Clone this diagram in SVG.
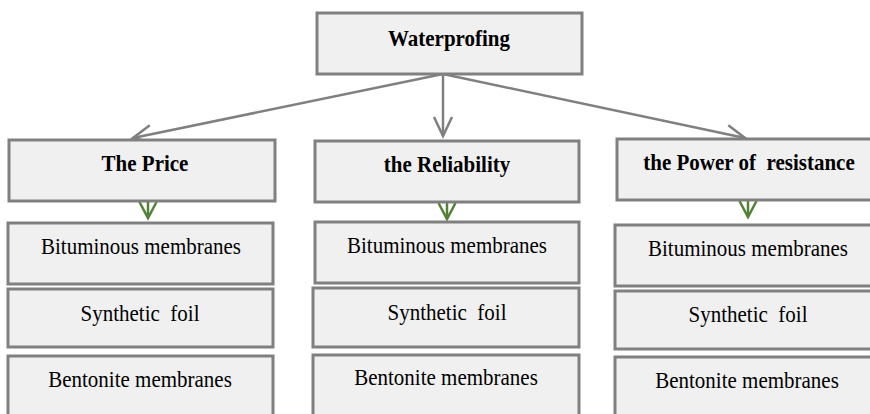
<svg xmlns="http://www.w3.org/2000/svg" width="870" height="414" viewBox="0 0 870 414">
<defs>
<style>
.box{fill:#f0f0f0;stroke:#808080;stroke-width:3}
.t{font-family:'Liberation Serif','Times New Roman',Times,serif;font-size:23px;fill:#000;text-anchor:middle}
.b{font-weight:bold}
.c{fill:none;stroke:#808080;stroke-width:2.5}
.g{fill:none;stroke:#538135;stroke-width:2.5}
</style>
<marker id="ah" markerUnits="userSpaceOnUse" markerWidth="40" markerHeight="40" viewBox="-25 -20 30 40" refX="0" refY="0" orient="auto" overflow="visible">
<path d="M-19,-9 L0,0 L-19,9" fill="none" stroke="#808080" stroke-width="2.5"/>
</marker>
<marker id="gh" markerUnits="userSpaceOnUse" markerWidth="40" markerHeight="40" viewBox="-25 -20 30 40" refX="0" refY="0" orient="auto" overflow="visible">
<path d="M-16,-8.5 L0,0 L-16,8.5" fill="none" stroke="#538135" stroke-width="2.5"/>
</marker>
</defs>
<rect width="870" height="414" fill="#fff"/>
<g id="connectors">
<line class="c" x1="443" y1="74" x2="443" y2="136" marker-end="url(#ah)"/>
<line class="c" x1="443" y1="74" x2="133" y2="138" marker-end="url(#ah)"/>
<line class="c" x1="443" y1="74" x2="745" y2="138" marker-end="url(#ah)"/>
<line class="g" x1="148" y1="201" x2="148" y2="218" marker-end="url(#gh)"/>
<line class="g" x1="447" y1="202" x2="447" y2="219" marker-end="url(#gh)"/>
<line class="g" x1="748" y1="200" x2="748" y2="217" marker-end="url(#gh)"/>
</g>
<g id="waterprofing">
<rect class="box" x="317" y="13" width="265" height="61"/>
<text class="t b" transform="translate(449,46) scale(0.913,1)">Waterprofing</text>
</g>
<g id="price">
<rect class="box" x="9" y="140" width="266" height="61"/>
<text class="t b" transform="translate(145,171) scale(0.913,1)">The Price</text>
</g>
<g id="reliability">
<rect class="box" x="315" y="141" width="264" height="61"/>
<text class="t b" transform="translate(447,172) scale(0.913,1)">the Reliability</text>
</g>
<g id="power">
<rect class="box" x="617" y="139" width="263" height="61"/>
<text class="t b" transform="translate(749,170) scale(0.913,1)" xml:space="preserve">the Power of  resistance</text>
</g>
<g id="price-bituminous">
<rect class="box" x="8" y="223" width="265" height="61"/>
<text class="t" transform="translate(141,254) scale(0.913,1)">Bituminous membranes</text>
</g>
<g id="price-synthetic">
<rect class="box" x="8" y="289" width="265" height="58"/>
<text class="t" transform="translate(140,321) scale(0.913,1)" xml:space="preserve">Synthetic  foil</text>
</g>
<g id="price-bentonite">
<rect class="box" x="8" y="356" width="265" height="70"/>
<text class="t" transform="translate(140,387) scale(0.913,1)">Bentonite membranes</text>
</g>
<g id="reliability-bituminous">
<rect class="box" x="315" y="222" width="264" height="61"/>
<text class="t" transform="translate(447,253) scale(0.913,1)">Bituminous membranes</text>
</g>
<g id="reliability-synthetic">
<rect class="box" x="313" y="288" width="266" height="59"/>
<text class="t" transform="translate(447,320) scale(0.913,1)" xml:space="preserve">Synthetic  foil</text>
</g>
<g id="reliability-bentonite">
<rect class="box" x="313" y="355" width="266" height="70"/>
<text class="t" transform="translate(446,385) scale(0.913,1)">Bentonite membranes</text>
</g>
<g id="power-bituminous">
<rect class="box" x="615" y="225" width="265" height="61"/>
<text class="t" transform="translate(748,256) scale(0.913,1)">Bituminous membranes</text>
</g>
<g id="power-synthetic">
<rect class="box" x="615" y="291" width="265" height="58"/>
<text class="t" transform="translate(748,322) scale(0.913,1)" xml:space="preserve">Synthetic  foil</text>
</g>
<g id="power-bentonite">
<rect class="box" x="615" y="357" width="265" height="70"/>
<text class="t" transform="translate(747,388) scale(0.913,1)">Bentonite membranes</text>
</g>
</svg>
